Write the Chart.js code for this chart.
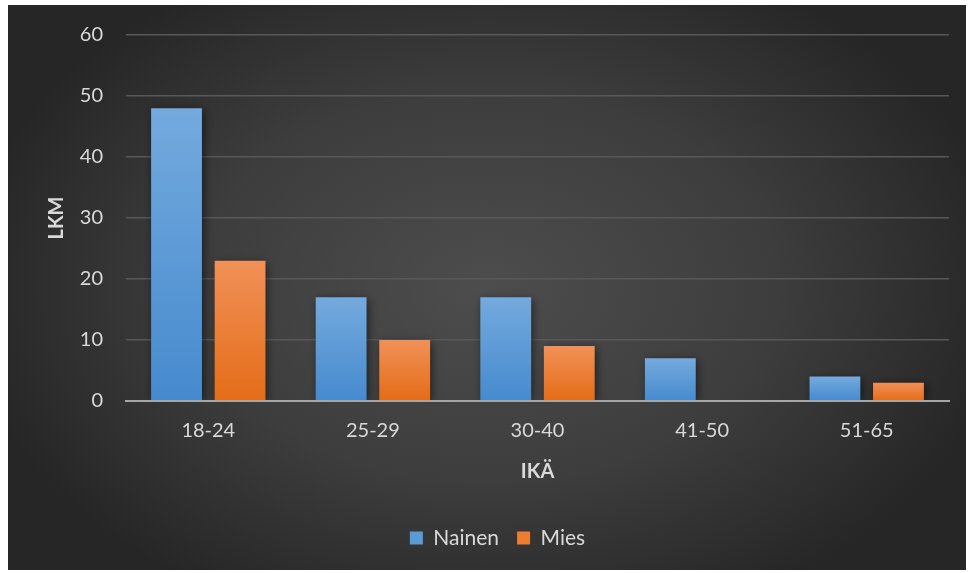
<!DOCTYPE html>
<html>
<head>
<meta charset="utf-8">
<script src="https://cdn.jsdelivr.net/npm/chart.js@4.4.1/dist/chart.umd.min.js"></script>
<style>
  html, body { margin: 0; padding: 0; background: #ffffff; }
  #wrap { width: 968px; height: 573px; position: relative; }
</style>
</head>
<body>
<div id="wrap"><canvas id="c" width="968" height="573"></canvas></div>
<script>
// Age groups and head counts per gender
const categories = ['18-24', '25-29', '30-40', '41-50', '51-65'];
const nainen = [48, 17, 17, 7, 4];
const mies = [23, 10, 9, 0, 3];
const yTicks = [0, 10, 20, 30, 40, 50, 60];

const FONT = 'Lato, "Noto Sans", sans-serif';
const TEXT = '#d9d9d9';

// Dark panel with a soft radial glow behind the plot
const panelBg = {
  id: 'panelBg',
  beforeDraw(chart) {
    const ctx = chart.ctx;
    const w = chart.width, h = chart.height;
    ctx.save();
    ctx.fillStyle = '#ffffff';
    ctx.fillRect(0, 0, w, h);
    const x0 = 8, y0 = 5, x1 = 966, y1 = 570;
    const cx = (x0 + x1) / 2, cy = (y0 + y1) / 2;
    ctx.beginPath();
    ctx.rect(x0, y0, x1 - x0, y1 - y0);
    ctx.clip();
    ctx.translate(cx, cy);
    ctx.scale(1.25, 0.85);
    const g = ctx.createRadialGradient(0, 0, 0, 0, 0, 420);
    g.addColorStop(0, '#4d4d4d');
    g.addColorStop(0.55, '#3d3d3d');
    g.addColorStop(1, '#262626');
    ctx.fillStyle = g;
    ctx.fillRect(-500, -400, 1000, 800);
    ctx.restore();
  }
};

// Drop shadow under the bars
const barShadow = {
  id: 'barShadow',
  beforeDatasetsDraw(chart) {
    const ctx = chart.ctx;
    ctx.save();
    ctx.shadowColor = 'rgba(0,0,0,0.55)';
    ctx.shadowBlur = 9;
    ctx.shadowOffsetX = 2;
    ctx.shadowOffsetY = 2;
  },
  afterDatasetsDraw(chart) {
    chart.ctx.restore();
  }
};

// Nudge the legend so it sits under the centre of the panel
const legendShift = {
  id: 'legendShift',
  afterLayout(chart) {
    const lg = chart.legend;
    if (!lg) return;
    lg.left += 19;
    lg.right += 19;
  }
};

function barGradient(top, bottom, fallback) {
  return (context) => {
    const chart = context.chart;
    if (!chart.chartArea || context.raw === undefined) return fallback;
    const y = chart.scales.y;
    const yTop = y.getPixelForValue(context.raw);
    const yBot = y.getPixelForValue(0);
    if (!isFinite(yTop) || yBot - yTop < 1) return fallback;
    const g = chart.ctx.createLinearGradient(0, yTop, 0, yBot);
    g.addColorStop(0, top);
    g.addColorStop(1, bottom);
    return g;
  };
}

new Chart(document.getElementById('c'), {
  type: 'bar',
  data: {
    labels: categories,
    datasets: [
      {
        label: 'Nainen',
        data: nainen,
        backgroundColor: barGradient('#74aade', '#468ace', '#5b9bd5'),
        borderWidth: 0
      },
      {
        label: 'Mies',
        data: mies,
        backgroundColor: barGradient('#f19158', '#e46c17', '#ed7d31'),
        borderWidth: 0
      }
    ]
  },
  options: {
    responsive: false,
    animation: false,
    devicePixelRatio: 1,
    categoryPercentage: 0.772,
    barPercentage: 0.8,
    layout: { padding: { left: 8, right: 19, top: 35, bottom: 14.5 } },
    plugins: {
      tooltip: { enabled: false },
      legend: {
        position: 'bottom',
        labels: {
          color: TEXT,
          font: { family: FONT, size: 21 },
          boxWidth: 13,
          boxHeight: 13,
          padding: 18,
          generateLabels(chart) {
            const solid = ['#5b9bd5', '#ed7d31'];
            return chart.data.datasets.map((ds, i) => ({
              text: ds.label,
              fillStyle: solid[i],
              strokeStyle: solid[i],
              lineWidth: 0,
              fontColor: TEXT,
              datasetIndex: i,
              hidden: false
            }));
          }
        }
      }
    },
    scales: {
      x: {
        grid: { display: false, drawTicks: false },
        border: { display: true, color: '#a6a6a6', width: 2, z: 1 },
        ticks: { color: TEXT, font: { family: FONT, size: 20 }, padding: 18 },
        title: {
          display: true,
          text: 'IKÄ',
          color: TEXT,
          font: { family: FONT, size: 20, weight: 'bold' },
          padding: { top: 0, bottom: 25.5 }
        },
        afterFit(scale) { scale.height = 108.5; }
      },
      y: {
        min: 0,
        max: 60,
        afterBuildTicks(scale) { scale.ticks = yTicks.map(v => ({ value: v })); },
        grid: { color: '#585858', lineWidth: 1.5, drawTicks: false },
        border: { display: false },
        ticks: { color: TEXT, font: { family: FONT, size: 20 }, padding: 23 },
        title: {
          display: true,
          text: 'LKM',
          color: TEXT,
          font: { family: FONT, size: 20, weight: 'bold' },
          padding: { top: 37, bottom: 0 }
        },
        afterFit(scale) { scale.width = 118; }
      }
    }
  },
  plugins: [panelBg, barShadow, legendShift]
});
</script>
</body>
</html>
